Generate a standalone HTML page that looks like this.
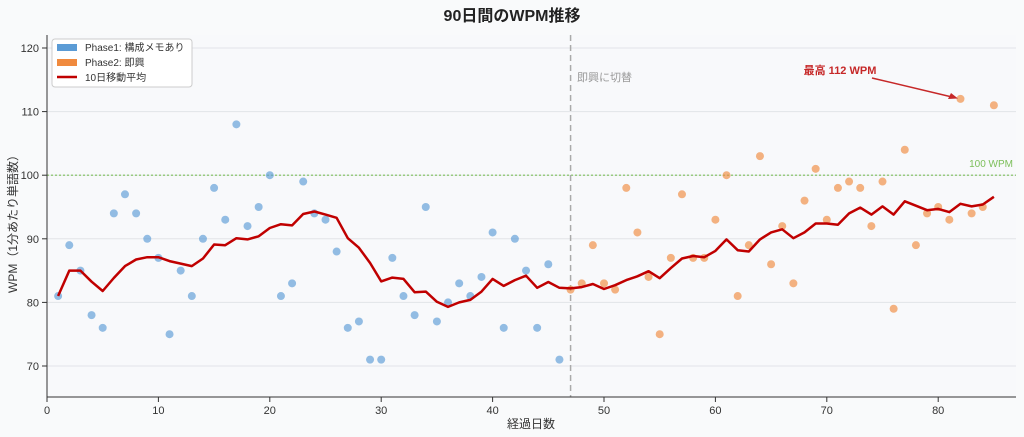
<!DOCTYPE html><html><head><meta charset="utf-8"><style>body{margin:0;background:#f9fafb}svg{display:block}text{font-family:"Liberation Sans","Noto Sans CJK JP",sans-serif}</style></head><body>
<svg id="s" width="1024" height="437" xmlns="http://www.w3.org/2000/svg"></svg>
<script>
const v=[81,89,85,78,76,94,97,94,90,87,75,85,81,90,98,93,108,92,95,100,81,83,99,94,93,88,76,77,71,71,87,81,78,95,77,80,83,81,84,91,76,90,85,76,86,71,82,83,89,83,82,98,91,84,75,87,97,87,87,93,100,81,89,103,86,92,83,96,101,93,98,99,98,92,99,79,104,89,94,95,93,112,94,95,111];
const X=d=>47+d*11.14, Y=w=>48+(120-w)*6.36;
let h='<rect x="47" y="35" width="969" height="362" fill="#f8f9fb"/>';
for(let w=70;w<=120;w+=10)h+=`<line x1="47" x2="1016" y1="${Y(w)}" y2="${Y(w)}" stroke="#e2e4e8" stroke-width="1"/><line x1="42" x2="47" y1="${Y(w)}" y2="${Y(w)}" stroke="#333"/><text x="39" y="${Y(w)+4}" font-size="11" text-anchor="end" fill="#333">${w}</text>`;
for(let d=0;d<=80;d+=10)h+=`<line x1="${X(d)}" x2="${X(d)}" y1="397" y2="402" stroke="#333"/><text x="${X(d)}" y="414" font-size="11" text-anchor="middle" fill="#333">${d}</text>`;
h+=`<line x1="47" x2="1016" y1="${Y(100)}" y2="${Y(100)}" stroke="#7cbf5a" stroke-width="1.2" stroke-dasharray="2,2"/><text x="1013" y="${Y(100)-8}" font-size="10" fill="#7cbf5a" text-anchor="end">100 WPM</text>`;
h+=`<line x1="${X(47)}" x2="${X(47)}" y1="35" y2="397" stroke="#aaa" stroke-width="1.5" stroke-dasharray="6,4"/><text x="577" y="81" font-size="11" fill="#999">即興に切替</text>`;
v.forEach((w,i)=>{const d=i+1;h+=`<circle cx="${X(d)}" cy="${Y(w)}" r="4" fill="${d<=46?'#5b9bd5':'#f08a3e'}" fill-opacity="0.65"/>`});
let p=[];v.forEach((w,i)=>{const s=v.slice(Math.max(0,i-9),i+1);const m=s.reduce((a,b)=>a+b)/s.length;p.push(X(i+1).toFixed(1)+','+Y(m).toFixed(1))});
h+=`<polyline points="${p.join(' ')}" fill="none" stroke="#c00000" stroke-width="2.5" stroke-linejoin="round"/>`;
h+=`<line x1="47" x2="47" y1="35" y2="397" stroke="#333"/><line x1="47" x2="1016" y1="397" y2="397" stroke="#333"/>`;
h+=`<text x="840" y="74" font-size="11" font-weight="bold" fill="#c62828" text-anchor="middle">最高 112 WPM</text><line x1="872" y1="78" x2="952" y2="97" stroke="#c62828" stroke-width="1.5"/><polygon points="958,98.5 948,99 951,93" fill="#c62828"/>`;
h+=`<rect x="52" y="39" width="140" height="48" fill="#fff" stroke="#ccc" rx="3"/><rect x="57" y="44" width="20" height="7" fill="#5b9bd5"/><text x="85" y="51" font-size="10" fill="#333">Phase1: 構成メモあり</text><rect x="57" y="59" width="20" height="7" fill="#f08a3e"/><text x="85" y="66" font-size="10" fill="#333">Phase2: 即興</text><line x1="57" x2="77" y1="77" y2="77" stroke="#c00000" stroke-width="2.5"/><text x="85" y="81" font-size="10" fill="#333">10日移動平均</text>`;
h+=`<text x="512" y="21" font-size="16" font-weight="bold" text-anchor="middle" fill="#222">90日間のWPM推移</text><text x="531" y="428" font-size="12" text-anchor="middle" fill="#333">経過日数</text><text transform="translate(17,221) rotate(-90)" font-size="12" text-anchor="middle" fill="#333">WPM（1分あたり単語数）</text>`;
document.getElementById('s').innerHTML=h;
</script></body></html>
